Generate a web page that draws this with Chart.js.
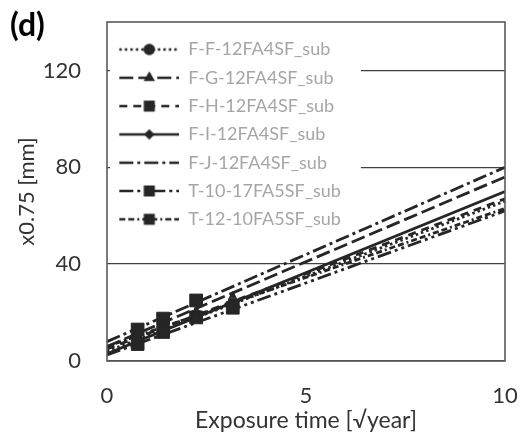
<!DOCTYPE html>
<html>
<head>
<meta charset="utf-8">
<script src="https://cdn.jsdelivr.net/npm/chart.js@4"></script>
<style>
  html, body { margin: 0; padding: 0; background: #fff; }
  #wrap { width: 520px; height: 435px; }
</style>
</head>
<body>
<div id="wrap"><canvas id="c" width="520" height="435"></canvas></div>
<script>
// ---- data ----
const seriesNames = [
  'F-F-12FA4SF_sub', 'F-G-12FA4SF_sub', 'F-H-12FA4SF_sub', 'F-I-12FA4SF_sub',
  'F-J-12FA4SF_sub', 'T-10-17FA5SF_sub', 'T-12-10FA5SF_sub'
];
const fitTimes = [0, 10];                       // √year, ends of the fitted lines
const fitStart = [4, 6, 5, 3, 8, 2.5, 6];        // x0.75 at t = 0
const fitEnd = [66, 76, 67, 70, 80, 62, 63];     // x0.75 at t = 10
const sampleTimes = [0.77, 1.41, 2.24, 3.16];    // √year of the measurements
const measuredFF = [9, 13, 18, 23];
const measuredFG = [11, 15, 21, 27];
const measuredFH = [10, 14, 19, 24];
const measuredFI = [8, 12, 18, 24];
const measuredFJ = [13, 18, 24, 30];
const measuredT1017 = [7, 12, 18, 22];
const measuredT1210 = [13, 17.5, 25, null];
const measured = [measuredFF, measuredFG, measuredFH, measuredFI, measuredFJ, measuredT1017, measuredT1210];
const xTicks = [0, 5, 10];
const yTicks = [0, 40, 80, 120];

// ---- styles ----
const ink = '#262626';
const FONT = 'Lato, "Open Sans", sans-serif';
const dashes = [[2.5, 3], [14, 5], [8, 6], [], [14, 4, 3, 4], [14, 4, 3, 4, 3, 4], [6, 3, 6, 3, 2, 3]];
const markerStyle = ['circle', 'triangle', 'rect', 'rectRot', false, 'rect', 'rect'];
const markerLegendR = [4.5, 4, 6, 3.5, 0, 6, 6];
const markerPlotR = [4, 4, 6, 3.5, 0, 9, 9];

function makeSample(i) {
  const c = document.createElement('canvas');
  c.width = 62; c.height = 18;
  const g = c.getContext('2d');
  g.strokeStyle = ink; g.fillStyle = ink; g.lineWidth = 2.6;
  g.setLineDash(dashes[i]);
  g.beginPath(); g.moveTo(2, 9); g.lineTo(62, 9); g.stroke();
  g.setLineDash([]);
  if (markerStyle[i]) {
    Chart.helpers.drawPoint(g, { pointStyle: markerStyle[i], radius: markerLegendR[i], rotation: 0, borderWidth: 1 }, 32, 9);
  }
  return c;
}
const samples = seriesNames.map((_, i) => makeSample(i));

const datasets = [];
seriesNames.forEach((name, i) => {
  datasets.push({
    label: name,
    data: fitTimes.map((t, k) => ({ x: t, y: k === 0 ? fitStart[i] : fitEnd[i] })),
    showLine: true,
    borderColor: ink,
    borderWidth: 2.8,
    borderDash: dashes[i],
    pointRadius: 0,
    order: 2
  });
});
seriesNames.forEach((name, i) => {
  datasets.push({
    label: name + ' (data)',
    data: sampleTimes.map((t, j) => ({ x: t, y: measured[i][j] })).filter(p => p.y !== null),
    showLine: false,
    pointStyle: markerStyle[i] || 'circle',
    pointRadius: markerPlotR[i],
    backgroundColor: ink,
    borderColor: ink,
    borderWidth: 1,
    order: 1
  });
});

// white panel behind the legend, then the legend itself on top of it
const legendPanel = {
  id: 'legendPanel',
  beforeDatasetsDraw(chart) {
    const lg = chart.legend, ca = chart.chartArea, ctx = chart.ctx;
    const hb = lg.legendHitBoxes;
    const right = Math.max(...hb.map(b => b.left + b.width)) + 20;
    const last = hb[hb.length - 1];
    const bottom = last.top + last.height + 10;
    ctx.save();
    ctx.fillStyle = '#fff';
    ctx.fillRect(ca.left + 3, ca.top + 2, right - ca.left - 3, bottom - ca.top - 2);
    ctx.restore();
    lg.draw();
  }
};

// plot frame and the panel letter
const frame = {
  id: 'frame',
  afterDatasetsDraw(chart) {
    const ca = chart.chartArea, ctx = chart.ctx;
    ctx.save();
    ctx.strokeStyle = '#5a5a5a';
    ctx.lineWidth = 1.6;
    ctx.strokeRect(ca.left, ca.top, ca.right - ca.left, ca.bottom - ca.top);
    ctx.fillStyle = '#000';
    ctx.font = 'bold 32px ' + FONT;
    ctx.textBaseline = 'alphabetic';
    ctx.textAlign = 'left';
    ctx.fillText('(d)', 10, 36);
    ctx.restore();
  }
};

new Chart(document.getElementById('c'), {
  type: 'scatter',
  data: { datasets },
  plugins: [legendPanel, frame],
  options: {
    responsive: false,
    animation: false,
    devicePixelRatio: 1,
    layout: { padding: { top: 22, right: 15, left: 0, bottom: 0 } },
    plugins: {
      tooltip: { enabled: false },
      legend: {
        position: 'chartArea',
        align: 'start',
        title: { display: true, text: '', font: { size: 1 }, padding: { top: 29, bottom: 0 } },
        labels: {
          usePointStyle: true,
          pointStyleWidth: 62,
          boxHeight: 18,
          padding: 10.3,
          color: '#a6a6a6',
          font: { family: FONT, size: 18 },
          generateLabels: () => seriesNames.map((name, i) => ({
            text: name,
            pointStyle: samples[i],
            fillStyle: 'transparent',
            strokeStyle: 'transparent',
            lineWidth: 0,
            hidden: false,
            datasetIndex: i,
            fontColor: '#a6a6a6'
          }))
        }
      }
    },
    scales: {
      x: {
        type: 'linear',
        min: 0, max: 10,
        afterBuildTicks: s => { s.ticks = xTicks.map(v => ({ value: v })); },
        afterFit: s => { s.height = 74; s.paddingLeft = 0; s.paddingRight = 0; },
        grid: { display: false },
        border: { display: false },
        ticks: { color: '#333', padding: 14, font: { family: FONT, size: 22 } },
        title: {
          display: true,
          text: 'Exposure time [√year]',
          color: '#333',
          font: { family: FONT, size: 23 },
          padding: { top: 0, bottom: 1 }
        }
      },
      y: {
        type: 'linear',
        min: 0, max: 140,
        afterBuildTicks: s => { s.ticks = yTicks.map(v => ({ value: v })); },
        afterFit: s => { s.width = 107; s.paddingTop = 0; s.paddingBottom = 0; },
        grid: { color: '#404040', lineWidth: 1.3, drawTicks: false },
        border: { display: false },
        ticks: { color: '#333', padding: 26, font: { family: FONT, size: 22 } },
        title: {
          display: true,
          text: 'x0.75 [mm]',
          color: '#333',
          font: { family: FONT, size: 22 },
          padding: { top: 14, bottom: 0 }
        }
      }
    }
  }
});
</script>
</body>
</html>
